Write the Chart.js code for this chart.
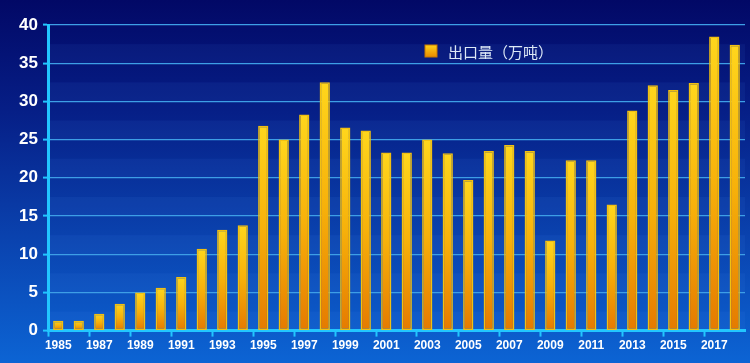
<!DOCTYPE html>
<html>
<head>
<meta charset="utf-8">
<script src="https://cdn.jsdelivr.net/npm/chart.js@4.4.1/dist/chart.umd.min.js"></script>
<style>
  html, body { margin: 0; padding: 0; background: #0a3a9a; }
  #wrap { position: relative; width: 750px; height: 363px; }
</style>
</head>
<body>
<div id="wrap"><canvas id="c" width="750" height="363"></canvas></div>
<script>
const years = ['1985','1986','1987','1988','1989','1990','1991','1992','1993','1994','1995','1996','1997','1998','1999','2000','2001','2002','2003','2004','2005','2006','2007','2008','2009','2010','2011','2012','2013','2014','2015','2016','2017','2018'];
const exportVolume = [1.3,1.3,2.2,3.5,5.0,5.6,7.0,10.7,13.2,13.8,26.8,25.0,28.3,32.5,26.6,26.2,23.3,23.3,25.0,23.2,19.7,23.5,24.3,23.5,11.8,22.3,22.3,16.5,28.8,32.1,31.5,32.4,38.5,37.4];
const seriesLabel = '出口量（万吨）';
const yMin = 0, yMax = 40, yStep = 2.5, yMajor = 5;

const bgPlugin = {
  id: 'bg',
  beforeDraw(chart) {
    const ctx = chart.ctx, w = chart.width, h = chart.height;
    ctx.save();
    const g = ctx.createLinearGradient(0, 0, 0, h);
    g.addColorStop(0, '#020866');
    g.addColorStop(0.3, '#061e86');
    g.addColorStop(0.65, '#0a42ae');
    g.addColorStop(1, '#0c64d4');
    ctx.fillStyle = g;
    ctx.fillRect(0, 0, w, h);
    const y = chart.scales.y, a = chart.chartArea;
    ctx.fillStyle = 'rgba(90,160,255,0.07)';
    for (let v = yMin; v < yMax; v += yMajor) {
      const t = y.getPixelForValue(v + yStep), b = y.getPixelForValue(v);
      ctx.fillRect(a.left, t, a.right - a.left, b - t);
    }
    ctx.restore();
  }
};

const legendPlugin = {
  id: 'customLegend',
  afterDraw(chart) {
    const ctx = chart.ctx, a = chart.chartArea;
    const x = a.left + 383, y = a.top + 26;
    ctx.save();
    const g = ctx.createLinearGradient(0, y - 6, 0, y + 6);
    g.addColorStop(0, '#ffd21a');
    g.addColorStop(1, '#e88a00');
    ctx.fillStyle = g;
    ctx.fillRect(x - 6, y - 6, 12, 12);
    ctx.strokeStyle = '#c87800';
    ctx.lineWidth = 1;
    ctx.strokeRect(x - 6, y - 6, 12, 12);
    ctx.fillStyle = '#dde8f6';
    ctx.font = '15px "Noto Sans CJK SC", sans-serif';
    ctx.textBaseline = 'middle';
    ctx.fillText(chart.data.datasets[0].label, x + 17, y + 1);
    ctx.restore();
  }
};

function barGradient(context) {
  const chart = context.chart;
  const ys = chart.scales && chart.scales.y;
  if (!chart.chartArea || !ys) return '#f5b000';
  const v = context.raw;
  const top = ys.getPixelForValue(v), base = ys.getPixelForValue(0);
  if (!isFinite(top) || base - top < 1) return '#f5b000';
  const g = chart.ctx.createLinearGradient(0, top, 0, base);
  g.addColorStop(0, '#ffd61c');
  g.addColorStop(0.5, '#f7b10a');
  g.addColorStop(1, '#e57a00');
  return g;
}

new Chart(document.getElementById('c'), {
  type: 'bar',
  data: {
    labels: years,
    datasets: [{
      label: seriesLabel,
      data: exportVolume,
      backgroundColor: barGradient,
      borderColor: '#f2c010',
      borderWidth: 1.5,
      borderSkipped: false,
      barPercentage: 0.5,
      categoryPercentage: 1.0
    }]
  },
  options: {
    responsive: false,
    animation: false,
    layout: { padding: { top: 25, right: 5, left: 0, bottom: 8 } },
    plugins: { legend: { display: false }, tooltip: { enabled: false } },
    scales: {
      x: {
        offset: true,
        grid: {
          offset: true,
          drawOnChartArea: false,
          drawTicks: true,
          tickLength: 6,
          tickWidth: 2,
          tickColor: (c) => (c.index % 2 === 0 ? '#22c6ff' : 'rgba(0,0,0,0)')
        },
        border: { color: '#22c6ff', width: 3 },
        ticks: {
          autoSkip: false,
          maxRotation: 0,
          color: '#ffffff',
          font: { family: 'Arial, "Liberation Sans", sans-serif', size: 12, weight: 'bold' },
          padding: 2,
          callback: function(val, i) { return i % 2 === 0 ? this.getLabelForValue(val) : ''; }
        }
      },
      y: {
        min: yMin, max: yMax,
        afterFit: (s) => { s.width = 48; },
        grid: {
          color: '#3d9ee6',
          lineWidth: 1.2,
          drawTicks: true,
          tickLength: 5,
          tickWidth: 2,
          tickColor: (c) => (c.tick && c.tick.value % yMajor === 0 ? '#22c6ff' : 'rgba(0,0,0,0)')
        },
        border: { color: '#22c6ff', width: 3 },
        ticks: {
          stepSize: yStep,
          color: '#ffffff',
          font: { family: 'Arial, "Liberation Sans", sans-serif', size: 17, weight: 'bold' },
          padding: 5,
          callback: (v) => (v % yMajor === 0 ? v : '')
        }
      }
    }
  },
  plugins: [bgPlugin, legendPlugin]
});
</script>
</body>
</html>
